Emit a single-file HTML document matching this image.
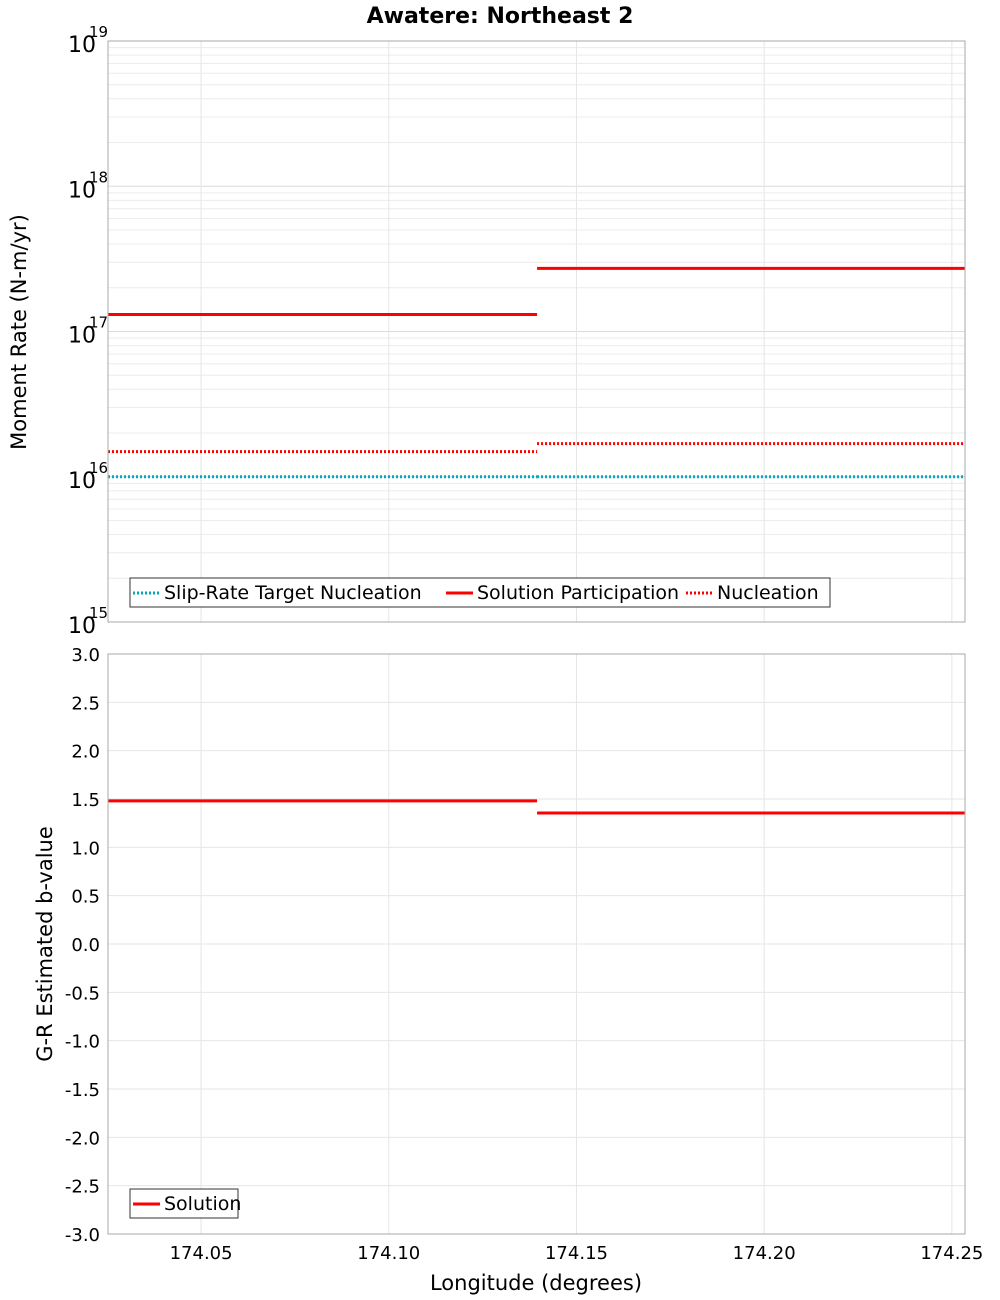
<!DOCTYPE html>
<html><head><meta charset="utf-8"><style>
body{margin:0;background:#fff}
svg{display:block;font-family:"DejaVu Sans","Liberation Sans",sans-serif}
</style></head><body>
<svg id="chart" width="1000" height="1300" xmlns="http://www.w3.org/2000/svg">
<text x="500" y="23" text-anchor="middle" font-size="22" font-weight="bold">Awatere: Northeast 2</text>
<g id="topPanel"></g>
<g id="botPanel"></g>
<text transform="translate(26,332) rotate(-90)" text-anchor="middle" font-size="21">Moment Rate (N-m/yr)</text>
<text transform="translate(52,944) rotate(-90)" text-anchor="middle" font-size="21">G-R Estimated b-value</text>
<text x="536" y="1290" text-anchor="middle" font-size="21">Longitude (degrees)</text>
</svg>
<script>
const xBreaks=[174.0252,174.1395,174.2535];
const xTicks=[174.05,174.10,174.15,174.20,174.25];
const xTickLabels=["174.05","174.10","174.15","174.20","174.25"];
const targetNucleation=[1.0e16,1.0e16];
const solutionParticipation=[1.31e17,2.72e17];
const nucleation=[1.49e16,1.69e16];
const bValue=[1.48,1.355];
const bTicks=[-3,-2.5,-2,-1.5,-1,-0.5,0,0.5,1,1.5,2,2.5,3];
const logExps=[15,16,17,18,19];

const NS="http://www.w3.org/2000/svg";
const L=108,R=965,T1=41,B1=622,T2=654,B2=1234;
const xs=v=>L+(v-xBreaks[0])/(xBreaks[2]-xBreaks[0])*(R-L);
const ys1=v=>B1-(Math.log10(v)-15)/4*(B1-T1);
const ys2=v=>B2-(v+3)/6*(B2-T2);
function mk(p,tag,a,txt){const e=document.createElementNS(NS,tag);for(const k in a)e.setAttribute(k,a[k]);if(txt!==undefined)e.textContent=txt;p.appendChild(e);return e;}
const topG=document.getElementById('topPanel'),botG=document.getElementById('botPanel');

for(let e=15;e<19;e++)for(let m=1;m<10;m++){const y=ys1(m*Math.pow(10,e));
 const g=mk(topG,'line',{x1:L,x2:R,y1:y,y2:y,stroke:m==1?'#dcdcdc':'#ececec','stroke-width':1});
 
 }
xTicks.forEach(v=>{for(const [p,t,b] of [[topG,T1,B1],[botG,T2,B2]]){const g=mk(p,'line',{x1:xs(v),x2:xs(v),y1:t,y2:b,stroke:'#e6e6e6'});
 
 }});
logExps.forEach(e=>{const y=ys1(Math.pow(10,e));
 const t=mk(topG,'text',{x:96,y:y+11,'text-anchor':'end','font-size':22},'10');
 
 
 const s=mk(topG,'text',{x:89,y:y-4,'font-size':15},String(e));
 
 });
bTicks.forEach(v=>{const y=ys2(v);
 const g=mk(botG,'line',{x1:L,x2:R,y1:y,y2:y,stroke:'#e6e6e6'});
 
 
 const t=mk(botG,'text',{x:100,y:y+7,'text-anchor':'end','font-size':18},v.toFixed(1));
 
 });
xTicks.forEach((v,i)=>{const t=mk(botG,'text',{x:xs(v),y:1259,'text-anchor':'middle','font-size':18},xTickLabels[i]);
 
 });

function series(p,arr,ys,col,dash,name){for(let i=0;i<arr.length;i++){
 const l=mk(p,'line',{x1:xs(xBreaks[i]),x2:xs(xBreaks[i+1]),y1:ys(arr[i]),y2:ys(arr[i]),stroke:col,'stroke-width':3});
 if(dash)l.setAttribute('stroke-dasharray',dash);
 
 }}
series(topG,targetNucleation,ys1,'#00aabb','2,2','target-nucleation-segment');
series(topG,nucleation,ys1,'#ff0000','2,2','nucleation-segment');
series(topG,solutionParticipation,ys1,'#ff0000',null,'solution-participation-segment');
series(botG,bValue,ys2,'#ff0000',null,'b-value-segment');

for(const [p,t,b] of [[topG,T1,B1],[botG,T2,B2]]){const r=mk(p,'rect',{x:L,y:t,width:R-L,height:b-t,fill:'none',stroke:'#aaa'});
 
 }

function legend(p,x,y,w,items){const g=mk(p,'g',{});
 
 
 mk(g,'rect',{x:x,y:y,width:w,height:29,fill:'#fff',stroke:'#333'});
 let cx=x+3;items.forEach(it=>{const ln=mk(g,'line',{x1:cx,x2:cx+27,y1:y+15,y2:y+15,stroke:it[1],'stroke-width':3});
 if(it[2])ln.setAttribute('stroke-dasharray','2,2');
 
 
 const t=mk(g,'text',{x:cx+31,y:y+21,'font-size':19},it[0]);
 
 
 cx+=it[3];});}
legend(topG,130,578,700,[["Slip-Rate Target Nucleation","#00aabb",1,313],["Solution Participation","#ff0000",0,240],["Nucleation","#ff0000",1,140]]);
legend(botG,130,1189,108,[["Solution","#ff0000",0,100]]);
</script>
</body></html>
